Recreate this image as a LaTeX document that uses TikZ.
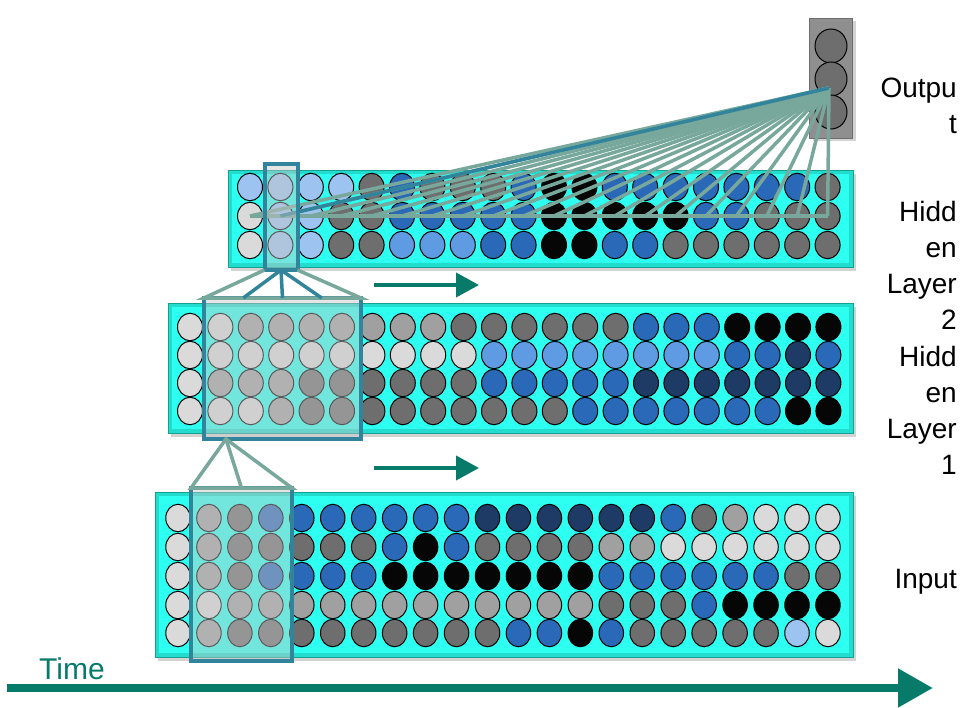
\documentclass[tikz,border=0pt]{standalone}
\usepackage{fontspec}
\setmainfont{Liberation Sans}
\usetikzlibrary{arrows.meta,shapes.geometric,calc,shadows}

\definecolor{panelcyan}{HTML}{2DFFF0}
\definecolor{paneledge}{HTML}{22DCCD}
\definecolor{panelline}{HTML}{16A092}
\definecolor{lgray}{HTML}{DADADA}
\definecolor{mgray}{HTML}{A0A0A0}
\definecolor{dgray}{HTML}{6E6E6E}
\definecolor{blk}{HTML}{060606}
\definecolor{lblue}{HTML}{9DC3F0}
\definecolor{mblue}{HTML}{5F9BE3}
\definecolor{dblue}{HTML}{2A68B8}
\definecolor{navy}{HTML}{1E3B66}
\definecolor{winteal}{HTML}{31849B}
\definecolor{linkgreen}{HTML}{78A89C}
\definecolor{timeteal}{HTML}{087A6A}
\definecolor{outgray}{HTML}{8F8F8F}

\begin{document}
\begin{tikzpicture}[x=1pt,y=-1pt,
  cell/.style={ellipse,draw=black,line width=1pt,minimum width=25pt,minimum height=27.5pt,inner sep=0pt},
  panel/.style={fill=paneledge,draw=panelline,line width=.8pt,
    drop shadow={shadow xshift=3pt,shadow yshift=-4pt,opacity=.35}},
  panelin/.style={fill=panelcyan},
  winbox/.style={draw=winteal,line width=4pt,fill=gray!45,fill opacity=.45,inner sep=0pt,outer sep=0pt},
  link/.style={draw=linkgreen,line width=3.5pt},
  tlink/.style={draw=winteal,line width=3.5pt},
  flow/.style={draw=timeteal,line width=4pt,-{Triangle[length=23pt,width=24pt]}},
  lbl/.style={font=\fontsize{28}{36}\selectfont,align=right,inner sep=0pt}]
\useasboundingbox (0,0) rectangle (971,707);

% panels
\draw[panel] (228,170) rectangle (853,267);
\fill[panelin] (232,174) rectangle (849,263);
\draw[panel] (168,303) rectangle (853,433);
\fill[panelin] (172,307) rectangle (849,429);
\draw[panel] (155,492) rectangle (853,657);
\fill[panelin] (159,496) rectangle (849,653);

% output unit
\node[draw=dgray,fill=outgray,line width=1pt,minimum width=43pt,minimum height=120pt,
  drop shadow={shadow xshift=3pt,shadow yshift=-3pt,opacity=.35}] (outbox) at (831,78) {};
\foreach \yy [count=\i] in {46,79,112}
  \node[cell,fill=dgray,minimum width=32pt,minimum height=34pt] (out\i) at (831,\yy) {};

% hidden layer 2
\foreach \r/\yy/\cl in {
  1/187/{lblue,lblue,lblue,lblue,dgray,dblue,dgray,dgray,dgray,dblue,blk,blk,dblue,dblue,dblue,dblue,dblue,dblue,dblue,dgray},
  2/216/{lgray,lblue,lblue,dgray,dgray,dblue,dblue,dblue,dblue,dblue,blk,blk,blk,blk,blk,dblue,dblue,dgray,dgray,dgray},
  3/245/{lgray,lblue,lblue,dgray,dgray,mblue,mblue,mblue,dblue,dblue,blk,blk,dblue,dblue,dgray,dgray,dgray,dgray,dgray,dgray}}
  \foreach \c [count=\i] in \cl
    \node[cell,fill=\c] (h2-\r-\i) at ({250+30.4*(\i-1)},\yy) {};

% hidden layer 1
\foreach \r/\yy/\cl in {
  1/327/{lgray,lgray,mgray,mgray,mgray,mgray,mgray,mgray,mgray,dgray,dgray,dgray,dgray,dgray,dgray,dblue,dblue,dblue,blk,blk,blk,blk},
  2/355/{lgray,lgray,lgray,lgray,lgray,lgray,lgray,lgray,lgray,lgray,mblue,mblue,mblue,mblue,mblue,mblue,mblue,mblue,dblue,dblue,navy,dblue},
  3/383/{lgray,mgray,mgray,mgray,dgray,dgray,dgray,dgray,dgray,dgray,dblue,dblue,dblue,dblue,dblue,navy,navy,navy,navy,navy,navy,navy},
  4/411/{lgray,lgray,lgray,mgray,dgray,dgray,dgray,dgray,dgray,dgray,dgray,dgray,dgray,dblue,dblue,dblue,dblue,dblue,dblue,dblue,blk,blk}}
  \foreach \c [count=\i] in \cl
    \node[cell,fill=\c] (h1-\r-\i) at ({190+30.4*(\i-1)},\yy) {};

% input
\foreach \r/\yy/\cl in {
  1/518/{lgray,mgray,dgray,dblue,dblue,dblue,dblue,dblue,dblue,dblue,navy,navy,navy,navy,navy,navy,dblue,dgray,mgray,lgray,lgray,lgray},
  2/547/{lgray,mgray,dgray,dgray,dgray,dgray,dgray,dblue,blk,dblue,dgray,dgray,dgray,dgray,mgray,mgray,lgray,lgray,lgray,lgray,lgray,lgray},
  3/576/{lgray,mgray,dgray,dblue,dblue,dblue,dblue,blk,blk,blk,blk,blk,blk,blk,dblue,dblue,dblue,dblue,dblue,dblue,dgray,dgray},
  4/605/{lgray,lgray,mgray,mgray,mgray,mgray,mgray,mgray,mgray,mgray,mgray,mgray,mgray,mgray,dgray,dgray,dgray,dblue,blk,blk,blk,blk},
  5/633/{lgray,mgray,dgray,dgray,dgray,dgray,dgray,dgray,dgray,dgray,dgray,dblue,dblue,blk,dblue,dgray,dgray,dgray,dgray,dgray,lblue,lgray}}
  \foreach \c [count=\i] in \cl
    \node[cell,fill=\c,minimum width=24.5pt] (in-\r-\i) at ({178+30.95*(\i-1)},\yy) {};

% fan into the output
\coordinate (outpt) at (829,88);
\foreach \i in {1,...,20}
  \draw[link] (outpt) -- (h2-2-\i.center);
\draw[link] (h2-2-1.center) -- (h2-2-20.center);
\draw[tlink] (h2-2-2.center) -- (outpt);

% windows
\node[winbox,minimum width=33pt,minimum height=106pt] (win2) at (281,217) {};
\node[winbox,minimum width=157pt,minimum height=141pt] (win1) at (282.5,368.5) {};
\node[winbox,minimum width=101pt,minimum height=173pt] (win0) at (241.5,574.5) {};

\draw[link] (win2.south west) -- (win1.north west) -- (win1.north east) -- (win2.south east);
\foreach \p in {.25,.5,.75}
  \draw[tlink] (win2.south) -- ($(win1.north west)!\p!(win1.north east)$);
\coordinate (apex) at ($(win1.south west)!.14!(win1.south east)$);
\draw[link] (win0.north west) -- (apex) -- (win0.north east) -- cycle;
\draw[link] (apex) -- (win0.north);

% small arrows and time axis
\coordinate (a1) at (374,285);
\coordinate (b1) at (479,285);
\coordinate (a2) at (374,468);
\coordinate (b2) at (479,468);
\draw[flow] (a1) -- (b1);
\draw[flow] (a2) -- (b2);
\coordinate (t0) at (7,688);
\coordinate (t1) at (933,688);
\draw[draw=timeteal,line width=8pt,-{Triangle[length=35pt,width=37pt]}] (t0) -- (t1);
\node[font=\fontsize{30}{36}\selectfont,text=timeteal,anchor=base west,inner sep=0pt] (time) at (39,679) {Time};

% labels
\node[lbl,anchor=north east] (lout) at (957,78) {Outpu\\t};
\node[lbl,anchor=north east] (lh2) at (957,201) {Hidd\\en\\Layer\\2};
\node[lbl,anchor=north east] (lh1) at (957,346) {Hidd\\en\\Layer\\1};
\node[lbl,anchor=base east] (lin) at (957,588) {Input};
\end{tikzpicture}
\end{document}
